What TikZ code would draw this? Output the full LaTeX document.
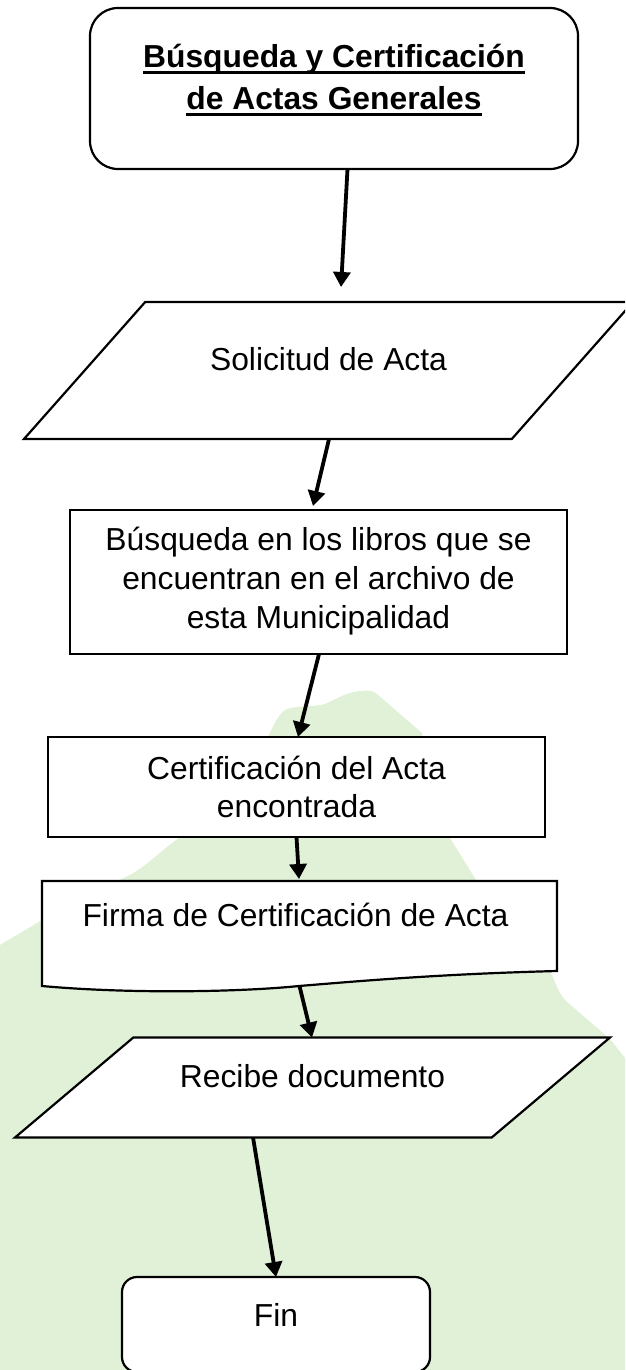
\documentclass[tikz,border=0pt]{standalone}
\usepackage{fontspec}
\setmainfont{Liberation Sans}
\usetikzlibrary{shapes.geometric,arrows.meta}
\definecolor{leaf}{HTML}{E0F1D8}
\newcommand\ulined[1]{\setbox0=\hbox{#1}\rlap{\vrule width \wd0 height -3.8pt depth 6.5pt}\box0}
\newcommand\lifted[2]{\raisebox{#1}{\begin{tabular}{@{}c@{}}#2\end{tabular}}}
\newcommand\liftedflat[2]{\raisebox{#1}[0pt][0pt]{\begin{tabular}{@{}c@{}}#2\end{tabular}}}
\tikzset{
  x=1pt,y=-1pt,
  every node/.style={font=\fontsize{31.8}{38.8}\selectfont,inner sep=0pt,outer sep=0pt},
  shapebox/.style={draw=black,line width=2.2pt,fill=white,align=center},
  slanted/.style={shapebox,shape=trapezium,trapezium stretches body=true,minimum width=#1},
  flow/.style={draw=black,line width=3.8pt,-{Triangle[length=15pt,width=17pt]},shorten >=0pt},
}
\begin{document}
\begin{tikzpicture}
\useasboundingbox (0,0) rectangle (625,1370);
\clip (0,0) rectangle (625,1370);
\fill[leaf] (0,945) -- (42,920) -- (127.5,876) .. controls (145,868) and (160,851) .. (179,838)
  -- (269,735) .. controls (275,722) and (280,712) .. (287,709) .. controls (300,705) and (315,707) .. (325,704)
  .. controls (340,697) and (350,691) .. (362,691) .. controls (370,690) and (372,691) .. (377,694)
  -- (422,733) -- (450,838) -- (476,880) -- (552,975) .. controls (556,985) and (560,995) .. (566,1001)
  -- (610,1039) -- (625,1058) -- (625,1370) -- (0,1370) -- cycle;
\node[shapebox,rectangle,rounded corners=28pt,minimum width=488pt,minimum height=161pt,font=\fontsize{31.8}{41.5}\selectfont\bfseries] (title) at (334,88.5)
  {\liftedflat{2.2pt}{\ulined{Búsqueda y Certificación}\\\ulined{de Actas Generales}}};
\node[slanted=609pt,trapezium left angle=48.5,trapezium right angle=131.5,text height=68pt,text depth=69pt] (sol) at (328.5,370.5)
  {Solicitud de Acta};
\node[shapebox,rectangle,minimum width=497pt,minimum height=144pt] (bus) at (318.5,582)
  {\lifted{3pt}{Búsqueda en los libros que se\\encuentran en el archivo de\\esta Municipalidad}};
\node[shapebox,rectangle,minimum width=497pt,minimum height=100pt] (cert) at (296.5,787)
  {Certificación del Acta\\encontrada};
\fill[white,draw=black,line width=2.2pt] (42,881) -- (557,881) -- (557,971)
  .. controls (440,974) and (360,981) .. (299,986) .. controls (240,992) and (130,994) .. (42,986) -- cycle;
\node[rectangle,minimum width=515pt,minimum height=105pt] (firma) at (299.5,933.5)
  {\hspace*{-8pt}\raisebox{37.5pt}{Firma de Certificación de Acta}};
\node[slanted=595pt,trapezium left angle=40.2,trapezium right angle=139.8,text height=50pt,text depth=50pt] (rec) at (312.5,1087.5)
  {Recibe documento};
\node[shapebox,rectangle,rounded corners=15pt,minimum width=308pt,minimum height=95pt] (fin) at (276,1324.5)
  {\raisebox{18.5pt}{Fin}};
\draw[flow] ([xshift=13.5pt]title.south) -- ([xshift=12.5pt,yshift=15pt]sol.north);
\draw[flow] ([xshift=.5pt]sol.south) -- ([xshift=-5.5pt,yshift=4pt]bus.north);
\draw[flow] ([xshift=.5pt]bus.south) -- ([xshift=1.5pt]cert.north);
\draw[flow] (cert.south) -- ([xshift=-.5pt,yshift=2pt]firma.north);
\draw[flow] (firma.south) -- ([xshift=-.5pt]rec.north);
\draw[flow] ([xshift=-59.5pt]rec.south) -- ([xshift=0pt]fin.north);
\end{tikzpicture}
\end{document}
